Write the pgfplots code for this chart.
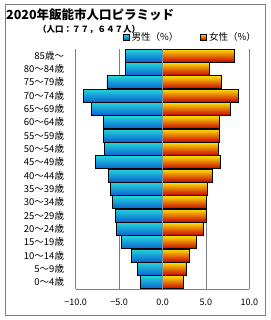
\documentclass[border=0pt]{standalone}
\usepackage{pgfplots}
\pgfplotsset{compat=1.18}
\usepackage{pgfplotstable}
\usepackage{fontspec}
\setmainfont{Noto Sans CJK JP}
\definecolor{mtop}{RGB}{34,212,218}
\definecolor{mmid}{RGB}{24,178,216}
\definecolor{mbot}{RGB}{12,96,210}
\definecolor{ftop}{RGB}{255,224,0}
\definecolor{fmid}{RGB}{255,128,0}
\definecolor{fbot}{RGB}{200,0,0}
\definecolor{frame}{RGB}{128,128,128}
\definecolor{zline}{RGB}{128,146,170}
\pgfplotstableread{
y male female
0 -2.5 2.4
1 -2.9 2.7
2 -3.6 3.1
3 -4.7 3.9
4 -5.3 4.7
5 -5.4 5.0
6 -5.8 5.0
7 -6.0 5.2
8 -6.2 5.8
9 -7.7 6.7
10 -6.7 6.4
11 -6.8 6.5
12 -6.8 6.6
13 -8.2 7.8
14 -9.1 8.7
15 -6.4 6.8
16 -4.3 5.4
17 -4.3 8.3
}\pyr
\pgfplotsset{
  mbar/.style={draw=black, line width=0.8pt, top color=mtop, middle color=mmid, bottom color=mbot},
  fbar/.style={draw=black, line width=0.8pt, top color=ftop, middle color=fmid, bottom color=fbot},
}
\begin{document}
\begin{tikzpicture}
\path[use as bounding box] (0pt,0pt) rectangle (270pt,320pt);
\draw[frame, line width=0.8pt] (5pt,4.5pt) rectangle (265pt,316pt);
\begin{axis}[
  at={(75.7pt,31pt)}, anchor=south west,
  scale only axis, width=173.6pt, height=240pt,
  xmin=-10, xmax=10, ymin=-0.5, ymax=17.5,
  axis lines*=left,
  axis line style={frame, line width=0.8pt},
  xmajorgrids, grid style={frame, line width=0.8pt},
  major tick length=0pt,
  xtick={-10,-5,0,5,10},
  xticklabels={−10.0,−5.0,0.0,5.0,10.0},
  xticklabel style={font=\fontsize{9}{10}\selectfont, inner sep=0pt, yshift=-10pt},
  ytick={0,...,17},
  yticklabels={0〜4歳,5〜9歳,10〜14歳,15〜19歳,20〜24歳,25〜29歳,30〜34歳,35〜39歳,40〜44歳,45〜49歳,50〜54歳,55〜59歳,60〜64歳,65〜69歳,70〜74歳,75〜79歳,80〜84歳,85歳〜},
  yticklabel style={font=\fontsize{9.5}{10}\selectfont, anchor=east, inner sep=0pt, xshift=-11.5pt},
  xbar, bar width=0.97, bar shift=0pt,
  legend style={at={(1.05,1.02)}, anchor=south east, draw=none, fill=none,
    inner sep=0pt, font=\fontsize{9.5}{10}\selectfont, legend columns=2,
    /tikz/every even column/.append style={column sep=20pt}},
  legend image code/.code={\draw[#1, line width=0.7pt] (0pt,-3pt) rectangle (6pt,3pt);},
]
\addplot[mbar, restrict y to domain=0:0] table[x=male, y=y] {\pyr};
\addlegendentry{男性（\%）}
\pgfplotsinvokeforeach{1,...,17}{
  \addplot[mbar, forget plot, restrict y to domain=#1:#1] table[x=male, y=y] {\pyr};
}
\addplot[fbar, restrict y to domain=0:0] table[x=female, y=y] {\pyr};
\addlegendentry{女性（\%）}
\pgfplotsinvokeforeach{1,...,17}{
  \addplot[fbar, forget plot, restrict y to domain=#1:#1] table[x=female, y=y] {\pyr};
}
\draw[color=zline, line width=0.7pt] (axis cs:0,-0.5) -- (axis cs:0,17.5);
\end{axis}
\node[anchor=west, font=\bfseries\fontsize{12.5}{13}\selectfont, inner sep=0pt] at (6pt,305pt) {2020年飯能市人口ピラミッド};
\node[anchor=west, font=\bfseries\fontsize{8.5}{9}\selectfont, inner sep=0pt] at (38pt,290.5pt) {（人口：７７，６４７人）};
\end{tikzpicture}
\end{document}
